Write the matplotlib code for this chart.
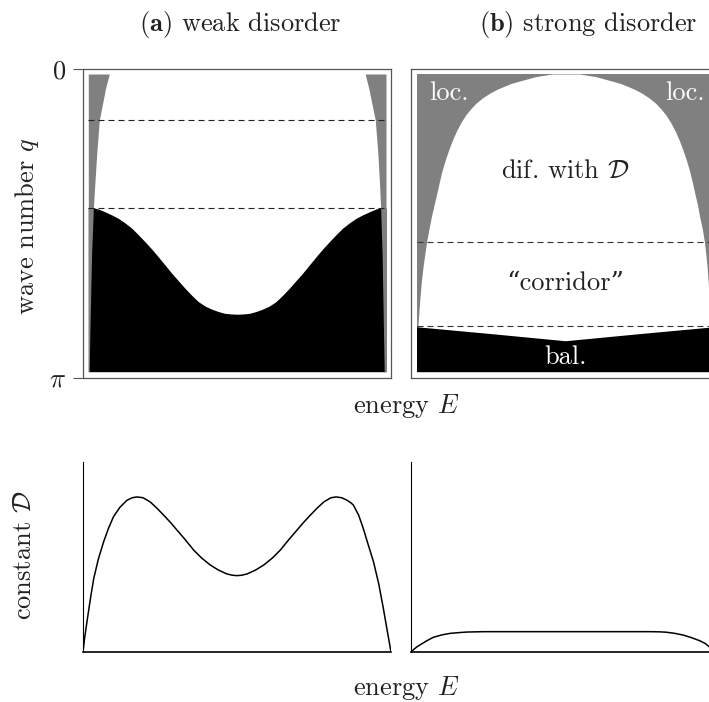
import numpy as np
import matplotlib
matplotlib.use("Agg")
import matplotlib.pyplot as plt

plt.rcParams['font.family'] = ['cmr10', 'DejaVu Serif']
plt.rcParams['mathtext.fontset'] = 'cm'
plt.rcParams['axes.formatter.use_mathtext'] = True

# ---------------- data (E normalised to band, q in units of pi) ----------------
# (a) weak disorder: localisation boundaries E_loc(q)
a_loc_q = [0.0, 0.048, 0.155, 0.272, 0.384, 0.451, 0.608, 0.832, 1.0]
a_loc_left = [0.0705, 0.058, 0.037, 0.028, 0.021, 0.017, 0.011, 0.006, 0.003]
a_loc_right = [0.930, 0.942, 0.964, 0.973, 0.979, 0.982, 0.987, 0.991, 0.994]
# (a) ballistic boundary q_bal(E)
a_bal_E = [0.0, 0.017, 0.035, 0.056, 0.078, 0.101, 0.123, 0.146, 0.168, 0.190, 0.213,
           0.235, 0.258, 0.280, 0.303, 0.325, 0.348, 0.370, 0.393, 0.415, 0.437, 0.459,
           0.48, 0.5, 0.52, 0.541, 0.563, 0.585, 0.607, 0.630, 0.652, 0.675, 0.697, 0.720,
           0.742, 0.765, 0.787, 0.810, 0.832, 0.854, 0.877, 0.899, 0.922, 0.944, 0.965,
           0.982, 1.0]
a_bal_q = [0.449, 0.449, 0.454, 0.463, 0.473, 0.485, 0.500, 0.518, 0.540, 0.563, 0.588,
           0.614, 0.642, 0.669, 0.695, 0.720, 0.744, 0.765, 0.780, 0.790, 0.798, 0.804,
           0.806, 0.807, 0.806, 0.804, 0.798, 0.790, 0.780, 0.765, 0.744, 0.720, 0.695, 0.669,
           0.642, 0.614, 0.588, 0.563, 0.540, 0.518, 0.500, 0.485, 0.473, 0.463, 0.454,
           0.449, 0.449]
a_dashed_q = [0.155, 0.449]

# (b) strong disorder: diffusive dome
b_dome_q = [0.0, 0.009, 0.024, 0.031, 0.043, 0.053, 0.065, 0.08, 0.098, 0.117, 0.138, 0.165,
            0.194, 0.226, 0.261, 0.294, 0.328, 0.366, 0.406, 0.44, 0.479, 0.52, 0.563, 0.605,
            0.647, 0.70, 0.759, 0.80, 0.843, 0.9]
b_dome_left = [0.455, 0.400, 0.345, 0.320, 0.290, 0.267, 0.245, 0.222, 0.200, 0.182, 0.165,
               0.148, 0.133, 0.119, 0.106, 0.095, 0.085, 0.076, 0.067, 0.059, 0.050, 0.042,
               0.034, 0.028, 0.022, 0.016, 0.011, 0.008, 0.005, 0.003]
b_dome_right = [0.548, 0.603, 0.658, 0.683, 0.713, 0.736, 0.758, 0.781, 0.803, 0.821, 0.838,
                0.855, 0.870, 0.884, 0.897, 0.908, 0.918, 0.927, 0.936, 0.944, 0.951, 0.960,
                0.967, 0.972, 0.976, 0.980, 0.983, 0.984, 0.986, 0.988]
b_bal_E = [0.0, 0.25, 0.5, 0.75, 1.0]
b_bal_q = [0.849, 0.872, 0.896, 0.872, 0.849]
b_dashed_q = [0.565, 0.846]

# diffusion constants D(E)
Da_E = [0, 0.005, 0.013, 0.025, 0.035, 0.05, 0.067, 0.083, 0.099, 0.12, 0.143, 0.16, 0.175,
        0.195, 0.218, 0.24, 0.262, 0.285, 0.305, 0.333, 0.359, 0.385, 0.413, 0.44, 0.467,
        0.485, 0.5, 0.515, 0.533, 0.56, 0.587, 0.615, 0.641, 0.667, 0.695, 0.715, 0.738,
        0.76, 0.782, 0.805, 0.822, 0.84, 0.857, 0.87, 0.878, 0.895, 0.910, 0.925, 0.943,
        0.96, 0.975, 0.988, 1.0]
Da_D = [0, 0.07, 0.161, 0.29, 0.388, 0.49, 0.580, 0.652, 0.712, 0.762, 0.799, 0.812, 0.816,
        0.812, 0.790, 0.757, 0.720, 0.680, 0.642, 0.589, 0.537, 0.495, 0.458, 0.431, 0.411,
        0.404, 0.402, 0.404, 0.411, 0.431, 0.458, 0.495, 0.537, 0.589, 0.642, 0.680, 0.720,
        0.757, 0.790, 0.812, 0.816, 0.812, 0.799, 0.785, 0.773, 0.72, 0.650, 0.57, 0.476,
        0.36, 0.231, 0.11, 0]
Db_E = [0, 0.01, 0.02, 0.029, 0.05, 0.072, 0.1, 0.127, 0.155, 0.181, 0.21, 0.235, 0.5, 0.78,
        0.808, 0.83, 0.857, 0.884, 0.91, 0.938, 0.955, 0.968, 1.0]
Db_D = [0, 0.015, 0.028, 0.037, 0.058, 0.077, 0.09, 0.098, 0.102, 0.105, 0.106, 0.107, 0.107,
        0.107, 0.106, 0.104, 0.098, 0.089, 0.076, 0.059, 0.045, 0.028, 0]

titles = [r"($\mathbf{a}$) weak disorder", r"($\mathbf{b}$) strong disorder"]

GRAY = '#808080'
FRAME = '#555555'
TXT = '#222222'
FS = 19

W, H = 709, 702
fig = plt.figure(figsize=(W / 100, H / 100), dpi=100)


def rect(l, t, r, b):
    return [l / W, 1 - b / H, (r - l) / W, (b - t) / H]


def outer(r, ticks):
    ax = fig.add_axes(rect(*r))
    ax.set_xlim(0, 1)
    ax.set_ylim(np.pi, 0)
    ax.set_xticks([])
    if ticks:
        ax.set_yticks([0, np.pi])
        ax.set_yticklabels(['0', r'$\pi$'], fontsize=FS, color=TXT)
        ax.tick_params(axis='y', length=7, width=0.8, color=FRAME, pad=5)
    else:
        ax.set_yticks([])
    for s in ax.spines.values():
        s.set_color(FRAME)
        s.set_linewidth(0.9)
    return ax


def inner(r, face):
    ax = fig.add_axes(rect(*r))
    ax.set_xlim(0, 1)
    ax.set_ylim(np.pi, 0)
    ax.set_xticks([])
    ax.set_yticks([])
    ax.set_facecolor(face)
    for s in ax.spines.values():
        s.set_visible(False)
    return ax


pi = np.pi
dash = (0, (5.4, 3.6))

# ---- panel (a) ----
outer((83, 69, 390.5, 377.5), True)
ax = inner((88.3, 74, 386, 371.7), 'white')
ax.fill_between(a_bal_E, np.array(a_bal_q) * pi, pi, color='black', lw=0, zorder=1)
ax.fill_betweenx(np.array(a_loc_q) * pi, 0, a_loc_left, color=GRAY, lw=0, zorder=2)
ax.fill_betweenx(np.array(a_loc_q) * pi, a_loc_right, 1, color=GRAY, lw=0, zorder=2)
for q in a_dashed_q:
    ax.axhline(q * pi, color='#222222', lw=0.8, ls=dash, zorder=3)

# ---- panel (b) ----
outer((410.5, 69, 718, 377.5), False)
ax = inner((416.5, 74, 714.2, 371.7), GRAY)
ax.fill_betweenx(np.array(b_dome_q) * pi, b_dome_left, b_dome_right, color='white', lw=0, zorder=1)
ax.fill_between(b_bal_E, np.array(b_bal_q) * pi, pi, color='black', lw=0, zorder=2)
for q in b_dashed_q:
    ax.axhline(q * pi, color='#333333', lw=0.8, ls=dash, zorder=3)
ax.text(0.109, 0.087 * pi, "loc.", color='white', fontsize=FS, ha='center', va='baseline')
ax.text(0.901, 0.087 * pi, "loc.", color='white', fontsize=FS, ha='center', va='baseline')
ax.text(0.5, 0.350 * pi, r"dif. with $\mathcal{D}$", color=TXT, fontsize=FS, ha='center', va='baseline')
ax.text(0.5, 0.726 * pi, "\u201ccorridor\u201d", color=TXT, fontsize=FS, ha='center', va='baseline')
ax.text(0.5, 0.974 * pi, "bal.", color='white', fontsize=FS, ha='center', va='baseline')

# ---- bottom panels ----
for r, E, D in [((83, 462, 391, 652), Da_E, Da_D), ((411, 462, 719, 652), Db_E, Db_D)]:
    ax = fig.add_axes(rect(*r))
    ax.plot(E, D, color='black', lw=1.1, solid_joinstyle='round', solid_capstyle='round')
    ax.set_xlim(0, 1)
    ax.set_ylim(0, 1)
    ax.set_xticks([])
    ax.set_yticks([])
    ax.patch.set_alpha(0)
    ax.spines['top'].set_visible(False)
    ax.spines['right'].set_visible(False)
    ax.spines['left'].set_linewidth(0.8)
    ax.spines['bottom'].set_linewidth(1.2)

# ---- labels ----
fig.text(240 / W, 1 - 31 / H, titles[0], fontsize=FS, ha='center', va='baseline', color=TXT)
fig.text(588 / W, 1 - 31 / H, titles[1], fontsize=FS, ha='center', va='baseline', color=TXT)
fig.text(27.5 / W, 1 - 226 / H, r"wave number $q$", fontsize=FS, rotation=90,
         ha='center', va='center', color=TXT)
fig.text(24 / W, 1 - 555 / H, r"constant $\mathcal{D}$", fontsize=FS, rotation=90,
         ha='center', va='center', color=TXT)
fig.text(406 / W, 1 - 413 / H, r"energy $E$", fontsize=FS, ha='center', va='baseline', color=TXT)
fig.text(406 / W, 1 - 695 / H, r"energy $E$", fontsize=FS, ha='center', va='baseline', color=TXT)

fig.savefig("out.png", dpi=100)
